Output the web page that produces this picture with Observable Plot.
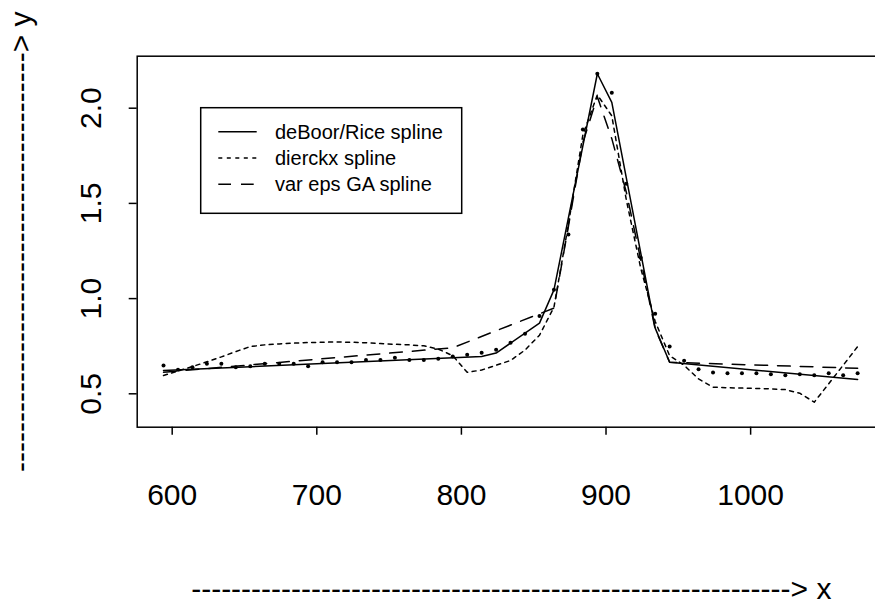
<!DOCTYPE html>
<html>
<head>
<meta charset="utf-8">
<script src="https://cdn.jsdelivr.net/npm/d3@7"></script>
<script src="https://cdn.jsdelivr.net/npm/@observablehq/plot@0.6"></script>
<style>
  html, body { margin: 0; padding: 0; background: white; overflow: hidden; }
  #wrap { position: relative; width: 875px; height: 605px; }
  #legend { position: absolute; left: 0; top: 0; }
</style>
</head>
<body>
<div id="wrap"></div>
<script>
// ---- data ----
const sampleX = [594,604,614,624,634,644,654,664,674,684,694,704,714,724,734,744,754,764,774,784,
                 794,804,814,824,834,844,854,864,874,884,894,904,914,924,934,944,954,964,974,984,
                 994,1004,1014,1024,1034,1044,1054,1064,1074];
const sampleY = [0.649,0.626,0.640,0.658,0.658,0.640,0.645,0.658,0.658,0.658,0.645,0.666,0.666,0.666,0.678,0.678,0.689,0.678,0.678,0.684,
                 0.696,0.705,0.715,0.731,0.768,0.815,0.908,1.046,1.337,1.888,2.181,2.081,1.603,1.215,0.920,0.748,0.673,0.629,0.612,0.608,
                 0.608,0.608,0.603,0.598,0.603,0.598,0.608,0.598,0.608];

const deBoorX = [594, 814, 824, 854, 864, 894, 904, 934, 944, 1074];
const deBoorY = [0.622, 0.696, 0.714, 0.871, 1.046, 2.181, 2.031, 0.845, 0.666, 0.575];

const dierckxY = [0.596,0.620,0.643,0.668,0.694,0.722,0.748,0.757,0.762,0.766,0.769,0.771,0.772,0.771,0.768,0.764,0.760,0.757,0.752,0.735,
                  0.700,0.613,0.625,0.650,0.675,0.730,0.808,0.955,1.39,1.86,2.07,1.96,1.52,1.16,0.88,0.70,0.650,0.578,0.535,0.532,
                  0.530,0.528,0.526,0.522,0.503,0.456,0.553,0.650,0.748];

const gaX = [594, 794, 864, 874, 884, 894, 904, 914, 924, 934, 944, 1074];
const gaY = [0.613, 0.742, 0.950, 1.38, 1.82, 2.06, 1.84, 1.56, 1.205, 0.84, 0.666, 0.634];

const xTicks = [600, 700, 800, 900, 1000];
const yTicks = [0.5, 1.0, 1.5, 2.0];
const xLabel = "-".repeat(60) + "> x";
const yLabel = "-".repeat(42) + "> y";

const legendLabels = ["deBoor/Rice spline", "dierckx spline", "var eps GA spline"];
const legendDash = [null, "4,4.5", "12.7,10"];

// ---- build tables ----
const pts = sampleX.map((x, i) => ({x, y: sampleY[i]}));
const deBoor = deBoorX.map((x, i) => ({x, y: deBoorY[i]}));
const dierckx = sampleX.map((x, i) => ({x, y: dierckxY[i]}));
const ga = gaX.map((x, i) => ({x, y: gaY[i]}));

const lw = 1.5;
const chart = Plot.plot({
  width: 875,
  height: 605,
  marginLeft: 136.7,
  marginRight: -9.9,
  marginTop: 55.7,
  marginBottom: 178.3,
  style: {fontFamily: "'Liberation Sans', Arial, Helvetica, sans-serif", fontSize: "30px", color: "black", background: "white"},
  x: {domain: [575.8, 1093.2]},
  y: {domain: [0.3246, 2.2731]},
  marks: [
    Plot.frame({stroke: "black", strokeWidth: lw}),
    Plot.line(dierckx, {x: "x", y: "y", stroke: "black", strokeWidth: lw, strokeDasharray: legendDash[1]}),
    Plot.line(ga, {x: "x", y: "y", stroke: "black", strokeWidth: lw, strokeDasharray: legendDash[2]}),
    Plot.line(deBoor, {x: "x", y: "y", stroke: "black", strokeWidth: lw}),
    Plot.dot(pts, {x: "x", y: "y", r: 2, fill: "black", stroke: null}),
    Plot.axisX({ticks: xTicks, tickFormat: d3.format("d"), tickSize: 8, tickPadding: 48.3, strokeWidth: lw, fontSize: 30,
                label: xLabel, labelAnchor: "center", labelOffset: 172, labelArrow: false}),
    Plot.axisY({ticks: yTicks, tickFormat: d3.format(".1f"), tickRotate: -90, tickSize: 8, tickPadding: 28.7,
                strokeWidth: lw, fontSize: 30,
                label: yLabel, labelAnchor: "center", labelOffset: 127.5, labelArrow: false})
  ]
});
const wrap = document.getElementById("wrap");
wrap.appendChild(chart);

// ---- legend overlay ----
const leg = d3.select(wrap).append("svg")
  .attr("id", "legend")
  .attr("width", 875).attr("height", 605)
  .style("font-family", "'Liberation Sans', Arial, Helvetica, sans-serif");
leg.append("rect")
  .attr("x", 200.7).attr("y", 107.7).attr("width", 261).attr("height", 105.6)
  .attr("fill", "white").attr("stroke", "black").attr("stroke-width", lw);
legendLabels.forEach((lab, i) => {
  const cy = 131.7 + i * 26.3;
  const ln = leg.append("line")
    .attr("x1", 218.3).attr("x2", 256.7).attr("y1", cy).attr("y2", cy)
    .attr("stroke", "black").attr("stroke-width", lw);
  if (legendDash[i]) ln.attr("stroke-dasharray", legendDash[i]);
  leg.append("text")
    .attr("x", 275).attr("y", cy).attr("dy", "0.35em")
    .attr("font-size", 20).attr("fill", "black")
    .text(lab);
});
</script>
</body>
</html>
